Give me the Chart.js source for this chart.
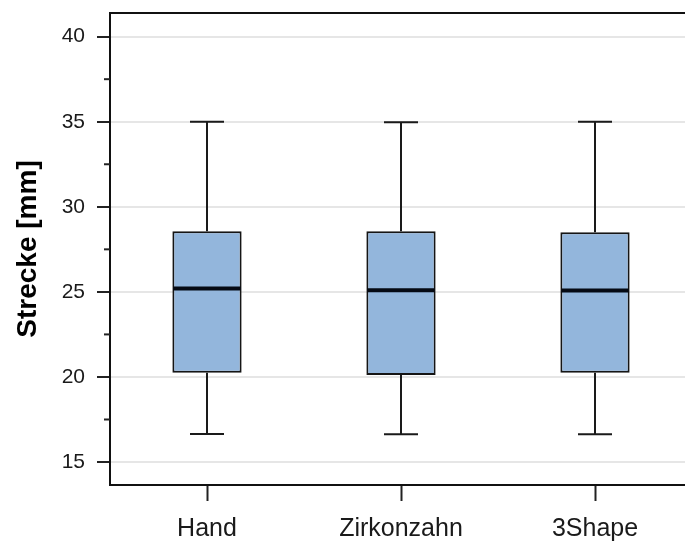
<!DOCTYPE html>
<html><head><meta charset="utf-8">
<script src="https://cdn.jsdelivr.net/npm/chart.js@4/dist/chart.umd.min.js"></script>
<style>
html,body{margin:0;padding:0;background:#fff;overflow:hidden;width:685px;height:547px}
#wrap{position:relative;width:692px;height:547px}
canvas{display:block}
</style></head>
<body><div id="wrap"><canvas id="c" width="692" height="547"></canvas></div>
<script>
const categories = ['Hand', 'Zirkonzahn', '3Shape'];
const whiskerLow  = [16.65, 16.63, 16.63];
const q1          = [20.25, 20.12, 20.25];
const median      = [25.20, 25.10, 25.08];
const q3          = [28.57, 28.57, 28.50];
const whiskerHigh = [35.00, 34.97, 35.00];
const yTicks      = [15, 20, 25, 30, 35, 40];
const yMinorTicks = [17.5, 22.5, 27.5, 32.5, 37.5];

const FONT = '"Liberation Sans", Arial, sans-serif';

const boxPlugin = {
  id: 'boxExtras',
  afterDatasetsDraw(chart) {
    const ctx = chart.ctx;
    const xs = chart.scales.x, ys = chart.scales.y;
    const meta = chart.getDatasetMeta(0);
    const area = chart.chartArea;
    ctx.save();
    ctx.strokeStyle = '#1a1a1a';
    ctx.lineWidth = 2;
    categories.forEach((c, i) => {
      const x = Math.round(xs.getPixelForValue(i));
      const yHi = ys.getPixelForValue(whiskerHigh[i]);
      const yQ3 = ys.getPixelForValue(q3[i]);
      const yQ1 = ys.getPixelForValue(q1[i]);
      const yLo = ys.getPixelForValue(whiskerLow[i]);
      ctx.beginPath();
      ctx.moveTo(x, yHi); ctx.lineTo(x, yQ3);
      ctx.moveTo(x, yQ1); ctx.lineTo(x, yLo);
      ctx.moveTo(x - 17, yHi); ctx.lineTo(x + 17, yHi);
      ctx.moveTo(x - 17, yLo); ctx.lineTo(x + 17, yLo);
      ctx.stroke();
      const w = meta.data[i].width;
      const yM = ys.getPixelForValue(median[i]);
      ctx.lineWidth = 4;
      ctx.strokeStyle = '#050a14';
      ctx.beginPath();
      ctx.moveTo(x - w / 2 + 1, yM); ctx.lineTo(x + w / 2 - 1, yM);
      ctx.stroke();
      ctx.lineWidth = 2;
      ctx.strokeStyle = '#1a1a1a';
    });
    ctx.strokeStyle = '#222';
    ctx.lineWidth = 2;
    yMinorTicks.forEach(v => {
      const y = ys.getPixelForValue(v);
      ctx.beginPath();
      ctx.moveTo(area.left - 6, y); ctx.lineTo(area.left, y);
      ctx.stroke();
    });
    ctx.strokeStyle = '#111';
    ctx.beginPath();
    ctx.moveTo(area.left - 1, area.top); ctx.lineTo(area.right + 2, area.top);
    ctx.stroke();
    ctx.restore();
  }
};

new Chart(document.getElementById('c'), {
  type: 'bar',
  data: {
    labels: categories,
    datasets: [{
      data: q1.map((v, i) => [v, q3[i]]),
      backgroundColor: '#93b6dc',
      borderColor: '#151515',
      borderWidth: 2,
      borderSkipped: false,
      barPercentage: 0.357,
      categoryPercentage: 1.0
    }]
  },
  options: {
    responsive: false,
    animation: false,
    devicePixelRatio: 1,
    layout: { padding: { top: 13, right: 0, left: 0, bottom: 0 } },
    plugins: { legend: { display: false }, tooltip: { enabled: false } },
    scales: {
      x: {
        type: 'category',
        offset: true,
        grid: { display: true, drawOnChartArea: false, drawTicks: true, tickLength: 16,
                tickColor: '#222', tickWidth: 2, offset: false },
        border: { display: true, color: '#111', width: 2 },
        ticks: { font: { family: FONT, size: 25 }, color: '#1a1a1a', padding: 13 },
        afterFit: s => { s.height = 62; s.paddingLeft = 0; s.paddingRight = 0; }
      },
      y: {
        min: 13.65,
        max: 41.39,
        afterBuildTicks: s => { s.ticks = yTicks.map(v => ({ value: v })); },
        grid: { color: '#e6e6e6', lineWidth: 2, tickColor: '#222', tickLength: 13, tickWidth: 2 },
        border: { display: true, color: '#111', width: 2 },
        ticks: { font: { family: FONT, size: 21 }, color: '#1a1a1a', padding: 12 },
        title: { display: true, text: 'Strecke [mm]', color: '#000',
                 font: { family: FONT, size: 28, weight: 'bold' }, padding: { top: 11, bottom: 0 } },
        afterFit: s => { s.width = 110; s.paddingTop = 0; s.paddingBottom = 0; }
      }
    }
  },
  plugins: [boxPlugin]
});
</script>
</body></html>
